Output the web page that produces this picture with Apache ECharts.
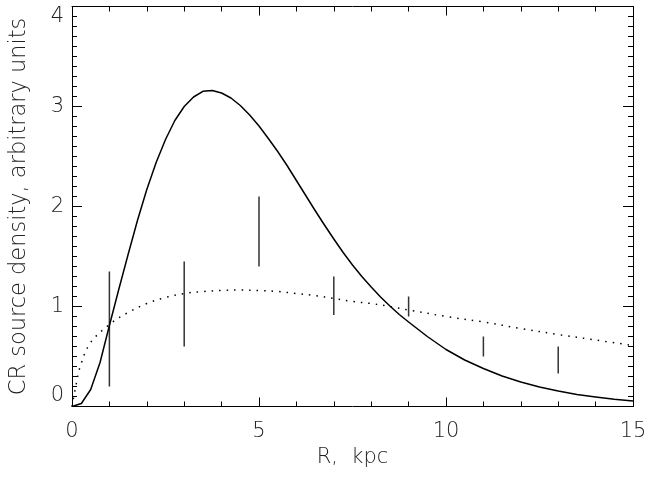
<!DOCTYPE html>
<html>
<head>
<meta charset="utf-8">
<script src="https://cdn.jsdelivr.net/npm/echarts@6/dist/echarts.min.js"></script>
<style>
html,body{margin:0;padding:0;background:#fff;}
#chart{width:650px;height:478px;}
</style>
</head>
<body>
<div id="chart"></div>
<script>
// Solid curve (R in kpc, source density)
const solidR = [0, 0.25, 0.5, 0.75, 1, 1.25, 1.5, 1.75, 2, 2.25, 2.5, 2.75, 3, 3.25, 3.5, 3.75, 4, 4.25, 4.5, 4.75, 5, 5.25, 5.5, 5.75, 6, 6.25, 6.5, 6.75, 7, 7.25, 7.5, 7.75, 8, 8.25, 8.5, 8.75, 9, 9.5, 10, 10.5, 11, 11.5, 12, 12.5, 13, 13.5, 14, 14.5, 15];
const solidV = [0, 0.03, 0.17, 0.44, 0.81, 1.17, 1.52, 1.86, 2.17, 2.44, 2.67, 2.86, 3.0, 3.095, 3.152, 3.16, 3.135, 3.085, 3.01, 2.915, 2.805, 2.68, 2.55, 2.41, 2.26, 2.11, 1.96, 1.815, 1.675, 1.54, 1.415, 1.3, 1.195, 1.095, 1.005, 0.92, 0.845, 0.7, 0.57, 0.465, 0.38, 0.305, 0.245, 0.195, 0.155, 0.12, 0.095, 0.072, 0.055];

// Dotted curve
const dotR = [0, 0.1, 0.22, 0.48, 1, 1.5, 2, 2.5, 3, 3.5, 4, 4.5, 5, 5.5, 6, 6.5, 7, 7.5, 8, 8.5, 9, 10, 11, 12, 13, 14, 15];
const dotV = [0.0, 0.2, 0.4, 0.63, 0.82, 0.94, 1.03, 1.09, 1.13, 1.15, 1.16, 1.165, 1.16, 1.15, 1.13, 1.11, 1.08, 1.05, 1.03, 1.0, 0.965, 0.9, 0.845, 0.78, 0.72, 0.665, 0.61];

// Error bars
const barR = [1, 3, 5, 7, 9, 11, 13];
const barLow = [0.2, 0.6, 1.4, 0.915, 0.9, 0.5, 0.33];
const barHigh = [1.35, 1.45, 2.1, 1.3, 1.1, 0.7, 0.6];

const xTitle = 'R,  kpc';
const yTitle = 'CR source density, arbitrary units';

const FONT = '"DejaVu Sans ExtraLight", "DejaVu Sans", sans-serif';
const FS = 21;
const TXT = '#222';

const solidData = solidR.map((r, i) => [r, solidV[i]]);
const dotData = dotR.map((r, i) => [r, dotV[i]]);
const barData = barR.map((r, i) => [r, barLow[i], barHigh[i]]);

const axisLine = {show: true, onZero: false, lineStyle: {color: '#000', width: 1}};

function xAx(pos, showLabel) {
  return {
    type: 'value', position: pos, min: 0, max: 15, interval: 5,
    name: showLabel ? xTitle : '', nameLocation: 'middle', nameGap: 38,
    nameTextStyle: {fontFamily: FONT, fontSize: FS, fontWeight: 200, color: TXT},
    axisLine: axisLine,
    axisTick: {show: true, inside: true, length: 9, lineStyle: {color: '#000', width: 1}},
    minorTick: {show: true, splitNumber: 5, length: 5, lineStyle: {color: '#000', width: 1}},
    axisLabel: {show: showLabel, margin: 15, fontFamily: FONT, fontSize: FS, fontWeight: 200, color: TXT},
    splitLine: {show: false}, minorSplitLine: {show: false}
  };
}
function yAx(pos, showLabel) {
  return {
    type: 'value', position: pos, min: 0, max: 4, interval: 1,
    name: showLabel ? yTitle : '', nameLocation: 'middle', nameGap: 41,
    nameTextStyle: {fontFamily: FONT, fontSize: 22.5, fontWeight: 200, color: TXT},
    axisLine: axisLine,
    axisTick: {show: true, inside: true, length: 10, lineStyle: {color: '#000', width: 1}},
    minorTick: {show: true, splitNumber: 10, length: 5, lineStyle: {color: '#000', width: 1}},
    axisLabel: {show: showLabel, margin: 8, fontFamily: FONT, fontSize: FS, fontWeight: 200, color: TXT,
      verticalAlignMinLabel: 'bottom', verticalAlignMaxLabel: 'top'},
    splitLine: {show: false}, minorSplitLine: {show: false}
  };
}

const chart = echarts.init(document.getElementById('chart'), null, {renderer: 'canvas'});
chart.setOption({
  animation: false,
  backgroundColor: '#fff',
  grid: {left: 72, right: 17, top: 6.5, bottom: 71.5, containLabel: false},
  xAxis: [xAx('bottom', true), xAx('top', false)],
  yAxis: [yAx('left', true), yAx('right', false)],
  series: [
    {
      type: 'line', data: solidData, xAxisIndex: 0, yAxisIndex: 0,
      showSymbol: false, symbol: 'none', smooth: false,
      lineStyle: {color: '#000', width: 1.5, join: 'round'}
    },
    {
      type: 'line', data: dotData, xAxisIndex: 0, yAxisIndex: 0,
      showSymbol: false, symbol: 'none', smooth: 0.35,
      lineStyle: {color: '#000', width: 1.5, type: [1.5, 6]}
    },
    {
      type: 'custom', data: barData, xAxisIndex: 0, yAxisIndex: 0,
      renderItem: function (params, api) {
        const p1 = api.coord([api.value(0), api.value(1)]);
        const p2 = api.coord([api.value(0), api.value(2)]);
        return {type: 'line', shape: {x1: p1[0], y1: p1[1], x2: p2[0], y2: p2[1]},
          style: {stroke: '#333', lineWidth: 1.5}};
      }
    }
  ]
});
</script>
</body>
</html>
